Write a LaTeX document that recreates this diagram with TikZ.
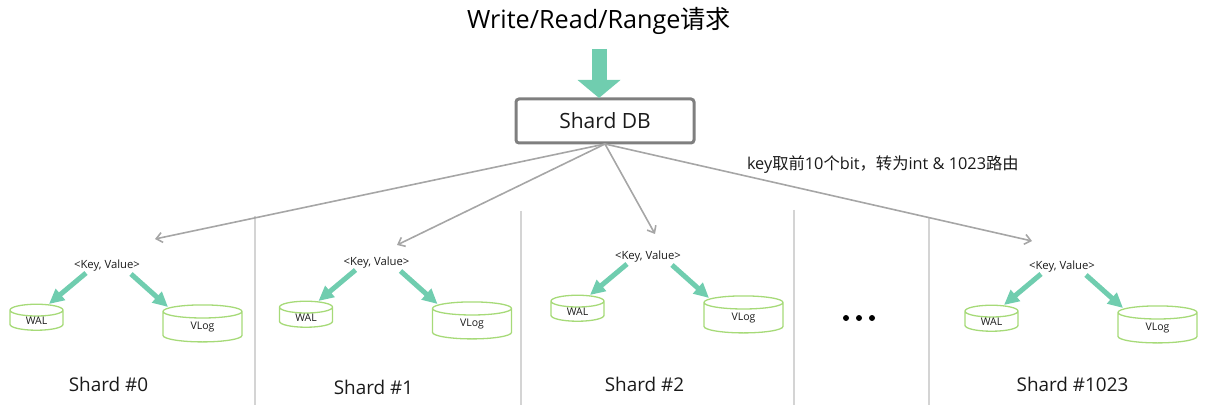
\documentclass[tikz,border=0pt]{standalone}
\usepackage{fontspec}
\setmainfont{Open Sans}
\newfontfamily\cjk{Noto Sans CJK SC}
\usetikzlibrary{arrows.meta,shapes.geometric}
\definecolor{arrowgreen}{HTML}{70CDAF}
\definecolor{cylgreen}{HTML}{A6DA78}
\definecolor{boxgray}{HTML}{7F7F7F}
\definecolor{linkgray}{HTML}{A6A6A6}
\definecolor{divgray}{HTML}{D4D4D4}
\definecolor{inktext}{HTML}{1A1A1A}
\tikzset{
  x=1pt,y=-1pt,
  every node/.style={inner sep=0pt,outer sep=0pt,text=inktext},
  bigarrow/.style={draw=arrowgreen,line width=15pt,-{Triangle[width=42pt,length=18pt]}},
  smallarrow/.style={draw=arrowgreen,line width=5pt,-{Triangle[width=14pt,length=15pt]}},
  linkarrow/.style={draw=linkgray,line width=1.6pt,-{Straight Barb[width=10pt,length=6pt,line width=1.6pt]}},
  divider/.style={draw=divgray,line width=1.1pt},
  cyl/.style={cylinder,shape border rotate=90,shape aspect=0.55,draw=cylgreen,line width=1.3pt,font=\fontsize{10.5}{12}\selectfont},
  keylabel/.style={font=\fontsize{11.3}{13}\selectfont},
  shardlabel/.style={font=\fontsize{18.9}{21}\selectfont},
}
\newcommand{\shard}[6]{%
  % #1 id, #2 dx, #3 dy, #4 label, #5 label x, #6 label y
  \node[keylabel] (key#1) at (107+#2,265.5+#3) {<Key, Value>};
  \node[cyl,minimum width=53pt,minimum height=26pt] (wal#1) at (36.5+#2,320.5+#3) {\raisebox{-3pt}{WAL}};
  \node[cyl,minimum width=79pt,minimum height=37pt] (vlog#1) at (202.5+#2,327+#3) {\raisebox{-4pt}{VLog}};
  \coordinate (wa#1) at (86+#2,273+#3);
  \coordinate (wb#1) at (49+#2,304+#3);
  \coordinate (va#1) at (131+#2,274+#3);
  \coordinate (vb#1) at (168+#2,307+#3);
  \draw[smallarrow] (wa#1) -- (wb#1);
  \draw[smallarrow] (va#1) -- (vb#1);
  \node[shardlabel] (label#1) at (#5,#6) {#4};
}
\begin{document}
\begin{tikzpicture}
\useasboundingbox (0,0) rectangle (1208,406);
\node[font=\fontsize{25.2}{30}\selectfont,anchor=base,text=black] (title) at (599,29) {Write/Read/Range{\cjk 请求}};
\coordinate (ta) at (599,49);
\node[draw=boxgray,line width=3pt,rounded corners=3pt,minimum width=178pt,minimum height=44pt,font=\fontsize{21}{24}\selectfont] (db) at (605,121) {Shard DB};
\coordinate (tb) at (599,98);
\draw[bigarrow] (ta) -- (tb);
\node[font=\fontsize{16.3}{18}\selectfont,anchor=base west] (note) at (747,169.5) {key{\cjk 取前}10{\cjk 个}bit{\cjk ，转为}int \& 1023{\cjk 路由}};
\coordinate (g0) at (155,239);
\coordinate (g1) at (397,245);
\coordinate (g2) at (655,234);
\coordinate (g3) at (1032,241);
\coordinate (dbb) at (605,144);
\draw[divider] (255,216) -- (255,405);
\draw[divider] (521,211) -- (521,405);
\draw[divider] (794,210) -- (794,405);
\draw[divider] (929,218) -- (929,405);
\draw[linkarrow] (dbb) -- (g0);
\draw[linkarrow] (dbb) -- (g1);
\draw[linkarrow] (dbb) -- (g2);
\draw[linkarrow] (dbb) -- (g3);
\shard{a}{0}{0}{Shard \#0}{108.5}{384}
\shard{b}{269.5}{-3}{Shard \#1}{373.5}{387}
\shard{c}{541}{-9}{Shard \#2}{644.5}{384}
\shard{d}{955}{1}{Shard \#1023}{1072.5}{384}
\fill[black] (846,318) circle (3pt) (859,318) circle (3pt) (872,318) circle (3pt);
\end{tikzpicture}
\end{document}
